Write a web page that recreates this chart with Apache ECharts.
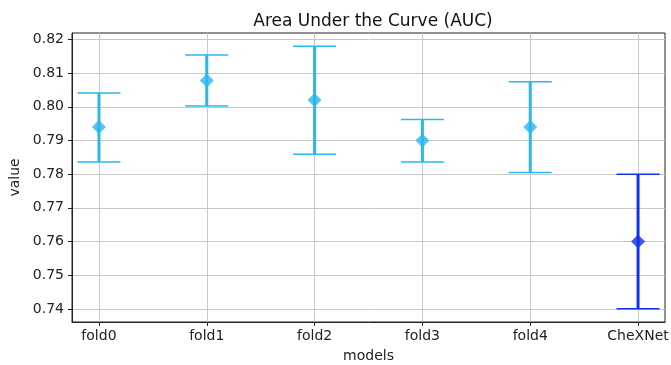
<!DOCTYPE html>
<html>
<head>
<meta charset="utf-8">
<script src="https://cdn.jsdelivr.net/npm/echarts@6/dist/echarts.min.js"></script>
<style>
  html, body { margin: 0; padding: 0; background: #fff; }
  #chart { width: 671px; height: 365px; }
</style>
</head>
<body>
<div id="chart"></div>
<script>
const models = ["fold0", "fold1", "fold2", "fold3", "fold4", "CheXNet"];
const means = [0.794, 0.8078, 0.802, 0.790, 0.794, 0.760];
const lows = [0.7836, 0.8002, 0.7859, 0.7836, 0.7805, 0.740];
const highs = [0.8041, 0.8154, 0.8180, 0.7962, 0.8074, 0.780];
const colors = ["#2cb7ec", "#2cb7ec", "#2cb7ec", "#2cb7ec", "#2cb7ec", "#1232f0"];
const yTicks = [0.74, 0.75, 0.76, 0.77, 0.78, 0.79, 0.80, 0.81, 0.82];
const xTicks = [0, 1, 2, 3, 4, 5];

const font = "DejaVu Sans";
const chart = echarts.init(document.getElementById("chart"), null, { renderer: "canvas" });

const errorData = models.map((name, i) => [i, lows[i], highs[i]]);
const meanData = models.map((name, i) => ({
  value: [i, means[i]],
  itemStyle: { color: colors[i] },
}));

chart.setOption({
  animation: false,
  title: {
    text: "Area Under the Curve (AUC)",
    left: 368,
    top: 8,
    textAlign: "center",
    textStyle: { fontFamily: font, fontSize: 17, fontWeight: "normal", color: "#111" },
  },
  grid: {
    left: 72, right: 6, top: 33, bottom: 43,
    outerBoundsMode: "none",
    show: true, borderColor: "#222", borderWidth: 1, backgroundColor: "transparent",
  },
  xAxis: {
    type: "value",
    min: -0.25,
    max: 5.25,
    name: "models",
    nameLocation: "middle",
    nameGap: 27,
    nameTextStyle: { fontFamily: font, fontSize: 14, color: "#222" },
    axisLine: { show: true, onZero: false, lineStyle: { color: "#222" } },
    axisTick: { show: true, customValues: xTicks, length: 4, lineStyle: { color: "#222" } },
    axisLabel: {
      customValues: xTicks,
      fontFamily: font,
      fontSize: 14,
      color: "#222",
      margin: 7,
      formatter: (v) => models[Math.round(v)] || "",
    },
    splitLine: { show: true, lineStyle: { color: "#c8c8c8", width: 1 } },
  },
  yAxis: {
    type: "value",
    min: 0.7361,
    max: 0.8219,
    name: "value",
    nameLocation: "middle",
    nameGap: 42,
    nameTextStyle: { fontFamily: font, fontSize: 14, color: "#222" },
    axisLine: { show: true, onZero: false, lineStyle: { color: "#222" } },
    axisTick: { show: true, customValues: yTicks, length: 4, lineStyle: { color: "#222" } },
    axisLabel: {
      customValues: yTicks,
      fontFamily: font,
      fontSize: 14,
      color: "#222",
      margin: 8,
      formatter: (v) => v.toFixed(2),
    },
    splitLine: { show: true, lineStyle: { color: "#c8c8c8", width: 1 } },
  },
  series: [
    {
      type: "custom",
      data: errorData,
      z: 3,
      renderItem: (params, api) => {
        const i = api.value(0);
        const lo = api.coord([i, api.value(1)]);
        const hi = api.coord([i, api.value(2)]);
        const half = 21.5;
        const color = colors[i];
        return {
          type: "group",
          children: [
            { type: "line", shape: { x1: lo[0], y1: lo[1], x2: hi[0], y2: hi[1] }, style: { stroke: color, lineWidth: 3 } },
            { type: "line", shape: { x1: hi[0] - half, y1: hi[1], x2: hi[0] + half, y2: hi[1] }, style: { stroke: color, lineWidth: 1.5 } },
            { type: "line", shape: { x1: lo[0] - half, y1: lo[1], x2: lo[0] + half, y2: lo[1] }, style: { stroke: color, lineWidth: 1.5 } },
          ],
        };
      },
    },
    {
      type: "scatter",
      data: meanData,
      symbol: "diamond",
      symbolSize: [14, 14],
      z: 4,
    },
  ],
});
</script>
</body>
</html>
